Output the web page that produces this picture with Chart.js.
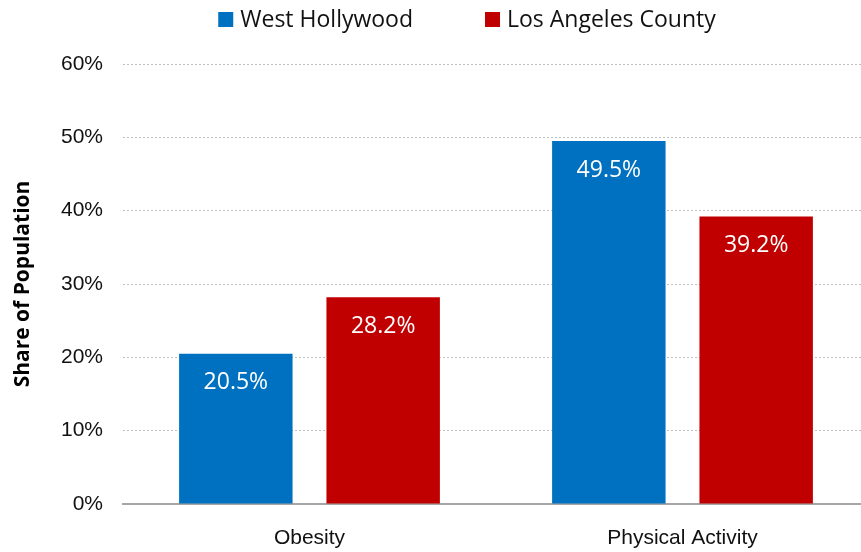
<!DOCTYPE html>
<html>
<head>
<meta charset="utf-8">
<script src="https://cdn.jsdelivr.net/npm/chart.js@4.4.1/dist/chart.umd.min.js"></script>
<style>
  html, body { margin: 0; padding: 0; background: #fff; }
  #wrap { width: 861px; height: 552px; position: relative; }
</style>
</head>
<body>
<div id="wrap"><canvas id="grafico"></canvas></div>
<script>
// datos
const categorias = ['Obesity', 'Physical Activity'];
const seriesNombres = ['West Hollywood', 'Los Angeles County'];
const westHollywood = [20.5, 49.5];
const losAngeles = [28.2, 39.2];
const colores = ['#0070C0', '#C00000'];
const ticksY = [0, 10, 20, 30, 40, 50, 60];

const fuenteCalibri = '"Open Sans", Lato, sans-serif';
const fuenteArial = '"Liberation Sans", Arial, sans-serif';

// etiquetas blancas dentro de las barras
const etiquetasBarras = {
  id: 'etiquetasBarras',
  afterDatasetsDraw(chart) {
    const ctx = chart.ctx;
    ctx.save();
    ctx.fillStyle = '#ffffff';
    ctx.font = '23px ' + fuenteCalibri;
    ctx.textAlign = 'center';
    ctx.textBaseline = 'middle';
    chart.data.datasets.forEach((ds, i) => {
      chart.getDatasetMeta(i).data.forEach((bar, j) => {
        ctx.fillText(ds.data[j].toFixed(1) + '%', bar.x, bar.y + 29);
      });
    });
    ctx.restore();
  }
};

// leyenda arriba, dibujada a mano para separar los elementos
const leyenda = {
  id: 'leyenda',
  afterDraw(chart) {
    const ctx = chart.ctx;
    ctx.save();
    ctx.font = '23px ' + fuenteCalibri;
    ctx.textBaseline = 'middle';
    const caja = 15, hueco = 7, separacion = 72;
    const anchos = chart.data.datasets.map(ds => caja + hueco + ctx.measureText(ds.label).width);
    const total = anchos.reduce((a, b) => a + b, 0) + separacion * (anchos.length - 1);
    let x = 467 - total / 2;
    chart.data.datasets.forEach((ds, i) => {
      ctx.fillStyle = ds.backgroundColor;
      ctx.fillRect(x, 12, caja, caja);
      ctx.fillStyle = '#111';
      ctx.fillText(ds.label, x + caja + hueco, 20);
      x += anchos[i] + separacion;
    });
    ctx.restore();
  }
};

// el area del grafico del original sigue un poco mas alla del borde derecho
const extenderDerecha = {
  id: 'extenderDerecha',
  afterLayout(chart) {
    const extra = 8;
    const sx = chart.scales.x;
    sx.right += extra;
    sx.width += extra;
    sx.configure();
    chart.chartArea.right += extra;
    chart.chartArea.width += extra;
  }
};

new Chart(document.getElementById('grafico'), {
  type: 'bar',
  data: {
    labels: categorias,
    datasets: [
      { label: seriesNombres[0], data: westHollywood, backgroundColor: colores[0] },
      { label: seriesNombres[1], data: losAngeles, backgroundColor: colores[1] }
    ]
  },
  options: {
    responsive: true,
    maintainAspectRatio: false,
    animation: false,
    layout: { padding: { top: 64, left: 4, right: 0, bottom: 0 } },
    datasets: {
      bar: { categoryPercentage: 0.79, barPercentage: 0.77 }
    },
    plugins: {
      legend: { display: false },
      tooltip: { enabled: false }
    },
    scales: {
      x: {
        grid: { display: false },
        border: { display: true, color: '#a6a6a6', width: 2 },
        ticks: { color: '#111', font: { family: fuenteArial, size: 21 }, padding: 14 },
        afterFit(scale) { scale.height = 48; }
      },
      y: {
        min: 0,
        max: 60,
        afterBuildTicks(scale) { scale.ticks = ticksY.map(v => ({ value: v })); },
        grid: {
          drawTicks: false,
          color: ctx => ctx.tick && ctx.tick.value === 0 ? 'rgba(0,0,0,0)' : '#bfbfbf',
          lineWidth: 1
        },
        border: { display: false, dash: [2, 2] },
        ticks: {
          color: '#111',
          padding: 20,
          font: { family: fuenteArial, size: 21 },
          callback: v => v + '%'
        },
        title: {
          display: true,
          text: 'Share of Population',
          color: '#000',
          font: { family: fuenteCalibri, size: 21, weight: 'bold' },
          padding: { top: 6, bottom: 8 }
        },
        afterFit(scale) { scale.width = 119; }
      }
    }
  },
  plugins: [etiquetasBarras, leyenda, extenderDerecha]
});
</script>
</body>
</html>
